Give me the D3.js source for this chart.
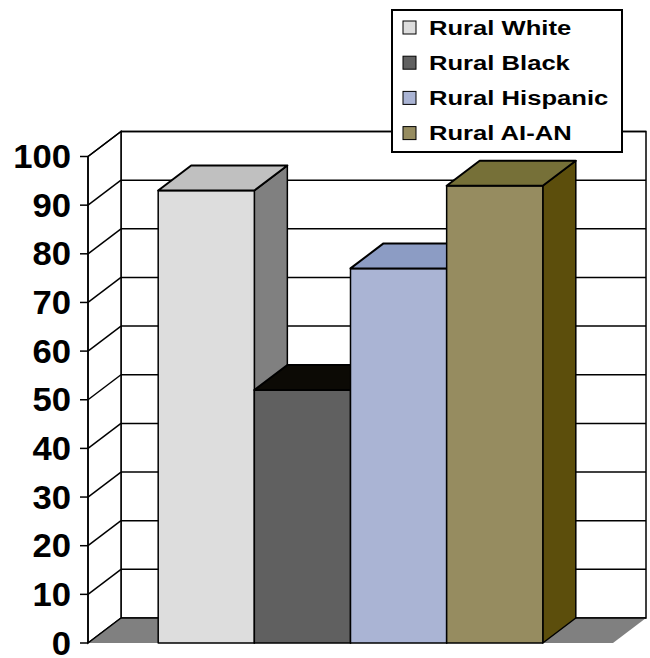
<!DOCTYPE html>
<html>
<head>
<meta charset="utf-8">
<script src="https://cdn.jsdelivr.net/npm/d3@7"></script>
<style>
  body { margin: 0; background: #fff; }
  svg { display: block; font-family: Arial, "Liberation Sans", sans-serif; font-weight: bold; }
</style>
</head>
<body>
<svg id="chart"></svg>
<script>
// chart values
const categories = ['Rural White', 'Rural Black', 'Rural Hispanic', 'Rural AI-AN'];
const values = [93, 52, 77, 94];
const tickValues = [0, 10, 20, 30, 40, 50, 60, 70, 80, 90, 100];
const frontColors = ['#dddddd', '#606060', '#aab4d4', '#968c60'];
const topColors = ['#c0c0c0', '#0c0a05', '#8c9cc4', '#767038'];
const sideColors = ['#808080', '#303030', '#56608a', '#5c4e0c'];

const width = 650, height = 658;
const svg = d3.select('#chart').attr('width', width).attr('height', height);

// depth offset of the 3d box
const dx = 33, dy = -25;
const left = 88, right = 613;

const y = d3.scaleLinear().domain([0, 100]).range([643, 156.5]);
const x = d3.scaleBand().domain(categories).range([left, right])
  .paddingInner(0).paddingOuter(0.73);

const pts = (arr) => arr.map(p => p.join(',')).join(' ');

// back wall
svg.append('rect')
  .attr('x', left + dx).attr('y', y(100) + dy)
  .attr('width', right - left).attr('height', y(0) - y(100))
  .attr('fill', '#fff').attr('stroke', '#000').attr('stroke-width', 1.5);

// left wall
svg.append('polygon')
  .attr('points', pts([[left, y(100)], [left + dx, y(100) + dy], [left + dx, y(0) + dy], [left, y(0)]]))
  .attr('fill', '#fff').attr('stroke', '#000').attr('stroke-width', 1.5);

// floor
svg.append('polygon')
  .attr('points', pts([[left, y(0)], [right, y(0)], [right + dx, y(0) + dy], [left + dx, y(0) + dy]]))
  .attr('fill', '#808080');

// gridlines on both walls
const grid = svg.append('g').attr('stroke', '#000').attr('stroke-width', 1.5);
grid.selectAll('.back').data(tickValues).enter().append('line')
  .attr('x1', left + dx).attr('x2', right + dx)
  .attr('y1', d => y(d) + dy).attr('y2', d => y(d) + dy);
grid.selectAll('.side').data(tickValues).enter().append('line')
  .attr('x1', left).attr('x2', left + dx)
  .attr('y1', d => y(d)).attr('y2', d => y(d) + dy);

// bars, left to right so later ones cover earlier side faces
const bw = x.bandwidth();
categories.forEach((c, i) => {
  const x0 = x(c), x1 = x0 + bw, yt = y(values[i]), yb = y(0);
  const g = svg.append('g').attr('stroke', '#000').attr('stroke-linejoin', 'round');
  g.append('polygon')
    .attr('points', pts([[x1, yt], [x1 + dx, yt + dy], [x1 + dx, yb + dy], [x1, yb]]))
    .attr('fill', sideColors[i]).attr('stroke-width', 1.5);
  g.append('rect')
    .attr('x', x0).attr('y', yt).attr('width', bw).attr('height', yb - yt)
    .attr('fill', frontColors[i]).attr('stroke-width', 1.5);
  g.append('polygon')
    .attr('points', pts([[x0, yt], [x0 + dx, yt + dy], [x1 + dx, yt + dy], [x1, yt]]))
    .attr('fill', topColors[i]).attr('stroke-width', 2);
});

// front axis
const axis = svg.append('g');
axis.append('line')
  .attr('x1', left).attr('x2', left).attr('y1', y(0)).attr('y2', y(100))
  .attr('stroke', '#000').attr('stroke-width', 1.5);
axis.selectAll('.tick').data(tickValues).enter().append('line')
  .attr('x1', left - 8).attr('x2', left)
  .attr('y1', d => y(d)).attr('y2', d => y(d))
  .attr('stroke', '#000').attr('stroke-width', 1.5);
axis.selectAll('text').data(tickValues).enter().append('text')
  .attr('transform', d => `translate(71,${y(d) + 11.5}) scale(1.05,1)`)
  .attr('text-anchor', 'end')
  .style('font-size', '33px')
  .text(d => d);

// legend
const legend = svg.append('g').attr('transform', 'translate(392,10)');
legend.append('rect')
  .attr('width', 230).attr('height', 142)
  .attr('fill', '#fff').attr('stroke', '#000').attr('stroke-width', 2);
const rows = legend.selectAll('.row').data(categories).enter().append('g')
  .attr('transform', (d, i) => `translate(0,${i * 35.2})`);
rows.append('rect')
  .attr('x', 11).attr('y', 11).attr('width', 13).attr('height', 13)
  .attr('fill', (d, i) => frontColors[i]).attr('stroke', '#000').attr('stroke-width', 1);
rows.append('text')
  .attr('transform', 'translate(37,24.5) scale(1.28,1)')
  .style('font-size', '20px')
  .text(d => d);
</script>
</body>
</html>
